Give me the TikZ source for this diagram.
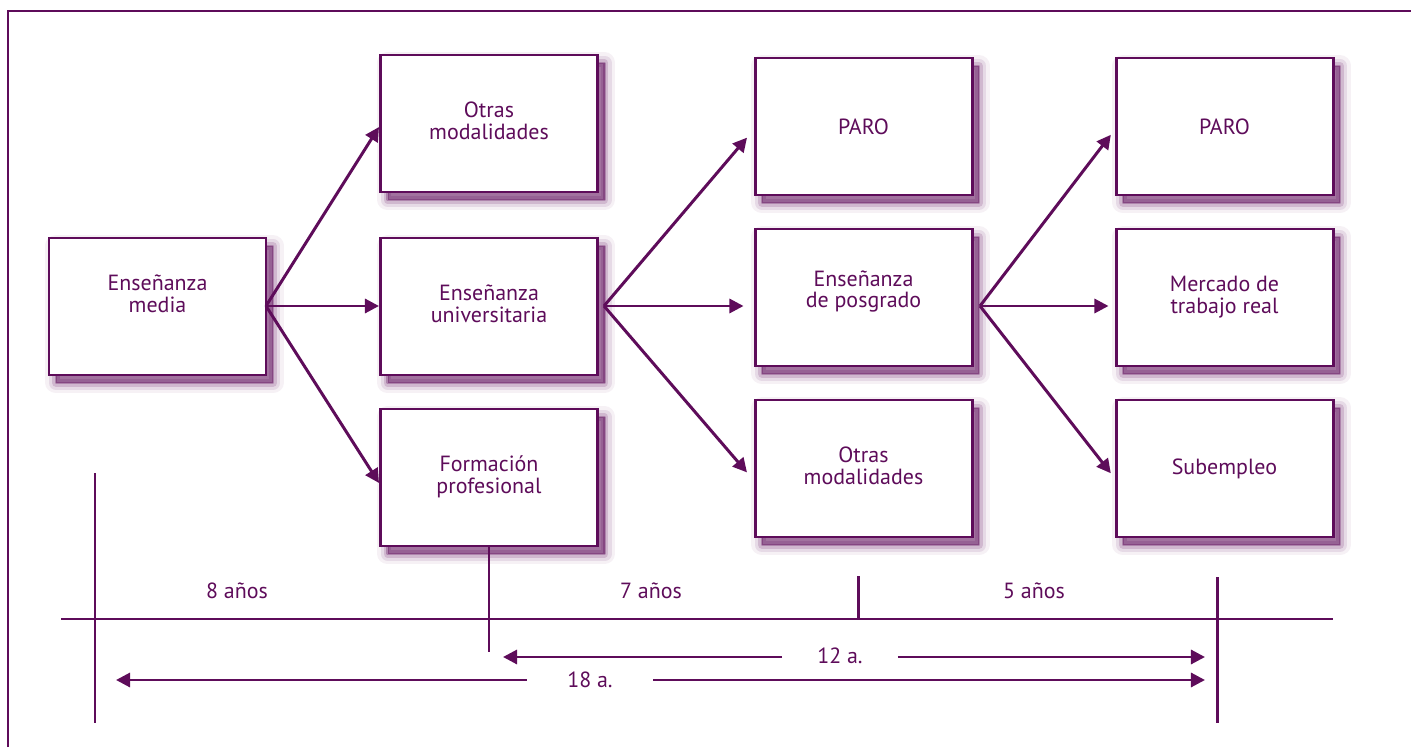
\documentclass[tikz,border=0pt]{standalone}
\usepackage{fontspec}
\setmainfont{PT Sans}
\usepackage{tikz}
\usetikzlibrary{arrows.meta}
\definecolor{morado}{RGB}{94,12,90}

\begin{document}
\begin{tikzpicture}[scale=1,
  sombra/.style={line join=round,transform canvas={shift={(4pt,-4.5pt)}},draw=morado,fill=morado,
    line width=#1},
  caja/.style={draw=morado,line width=1.7pt,fill=white,minimum width=4.34cm,minimum height=2.74cm,
    align=center,text=morado,font=\fontsize{12.5}{12.5}\selectfont,
    preaction={sombra=12pt,draw opacity=0.06,fill opacity=0.06},
    preaction={sombra=8pt,draw opacity=0.10,fill opacity=0.10},
    preaction={sombra=4.5pt,draw opacity=0.16,fill opacity=0.16},
    preaction={sombra=1.5pt,draw opacity=0.30,fill opacity=0.30}},
  flecha/.style={draw=morado,line width=1.7pt,-{Triangle[length=8pt,width=8pt]}},
  raya/.style={draw=morado,line width=1.7pt},
  rotulo/.style={text=morado,font=\fontsize{12.5}{12.5}\selectfont}]

\useasboundingbox (0,0) rectangle (28.22,14.94);
\draw [morado,line width=0.8pt] (0.16,0) -- (0.16,14.72) -- (28.22,14.72);

% boxes
\node [caja] (media) at (3.15,8.81) {Enseñanza\\media\\[2pt]};
\node [caja] (otras1) at (9.78,12.47) {Otras\\modalidades\\[-9pt]};
\node [caja] (univ) at (9.78,8.81) {Enseñanza\\universitaria\\[-9pt]};
\node [caja] (fp) at (9.78,5.39) {Formación\\profesional\\[-9pt]};
\node [caja] (paro1) at (17.27,12.41) {PARO};
\node [caja] (posg) at (17.27,8.99) {Enseñanza\\de posgrado\\[-3pt]};
\node [caja] (otras2) at (17.27,5.57) {Otras\\modalidades\\[-9pt]};
\node [caja] (paro2) at (24.49,12.41) {PARO};
\node [caja] (mercado) at (24.49,8.99) {Mercado de\\trabajo real};
\node [caja] (subempleo) at (24.49,5.57) {Subempleo};

% forks
\coordinate (f1) at (5.32,8.82);
\coordinate (f2) at (12.08,8.82);
\coordinate (f3) at (19.60,8.82);

\draw [flecha] (f1) -- ([yshift=-0.07cm]otras1.west);
\draw [flecha] (f1) -- (f1 -| univ.west);
\draw [flecha] (f1) -- ([yshift=-0.11cm]fp.west);

\draw [flecha,shorten >=0.2cm] (f2) -- ([yshift=-0.07cm]paro1.west);
\draw [flecha,shorten >=0.2cm] (f2) -- (f2 -| posg.west);
\draw [flecha,shorten >=0.2cm] (f2) -- ([yshift=-0.23cm]otras2.west);

\draw [flecha,shorten >=0.12cm] (f3) -- ([yshift=-0.07cm]paro2.west);
\draw [flecha,shorten >=0.12cm] (f3) -- (f3 -| mercado.west);
\draw [flecha,shorten >=0.12cm] (f3) -- ([yshift=-0.19cm]subempleo.west);

% time axis
\draw [raya] (1.22,2.56) -- (26.66,2.56);
\draw [raya] (1.90,5.48) -- (1.90,0.48);
\coordinate (fpbase) at (9.78,1.90);
\draw [raya] (fp.south) -- (fpbase);
\draw [raya] (17.16,3.42) -- (17.16,2.54);
\draw [raya] (24.34,3.40) -- (24.34,0.48);

\node [rotulo] (ocho) at (4.74,3.12) {8 años};
\node [rotulo] (siete) at (13.02,3.12) {7 años};
\node [rotulo] (cinco) at (20.68,3.12) {5 años};

% spans
\coordinate (i12) at (10.06,1.80);
\coordinate (d12) at (24.10,1.80);
\node [rotulo,minimum width=2.3cm,inner sep=0pt] (doce) at (16.80,1.80) {\raisebox{2pt}{12 a.}};
\draw [flecha] (doce.west) -- (i12);
\draw [flecha] (doce.east) -- (d12);

\coordinate (i18) at (2.32,1.34);
\coordinate (d18) at (24.10,1.34);
\node [rotulo,minimum width=2.52cm,inner sep=0pt] (diez) at (11.80,1.34) {\raisebox{-2pt}{18 a.}};
\draw [flecha] (diez.west) -- (i18);
\draw [flecha] (diez.east) -- (d18);
\end{tikzpicture}
\end{document}
